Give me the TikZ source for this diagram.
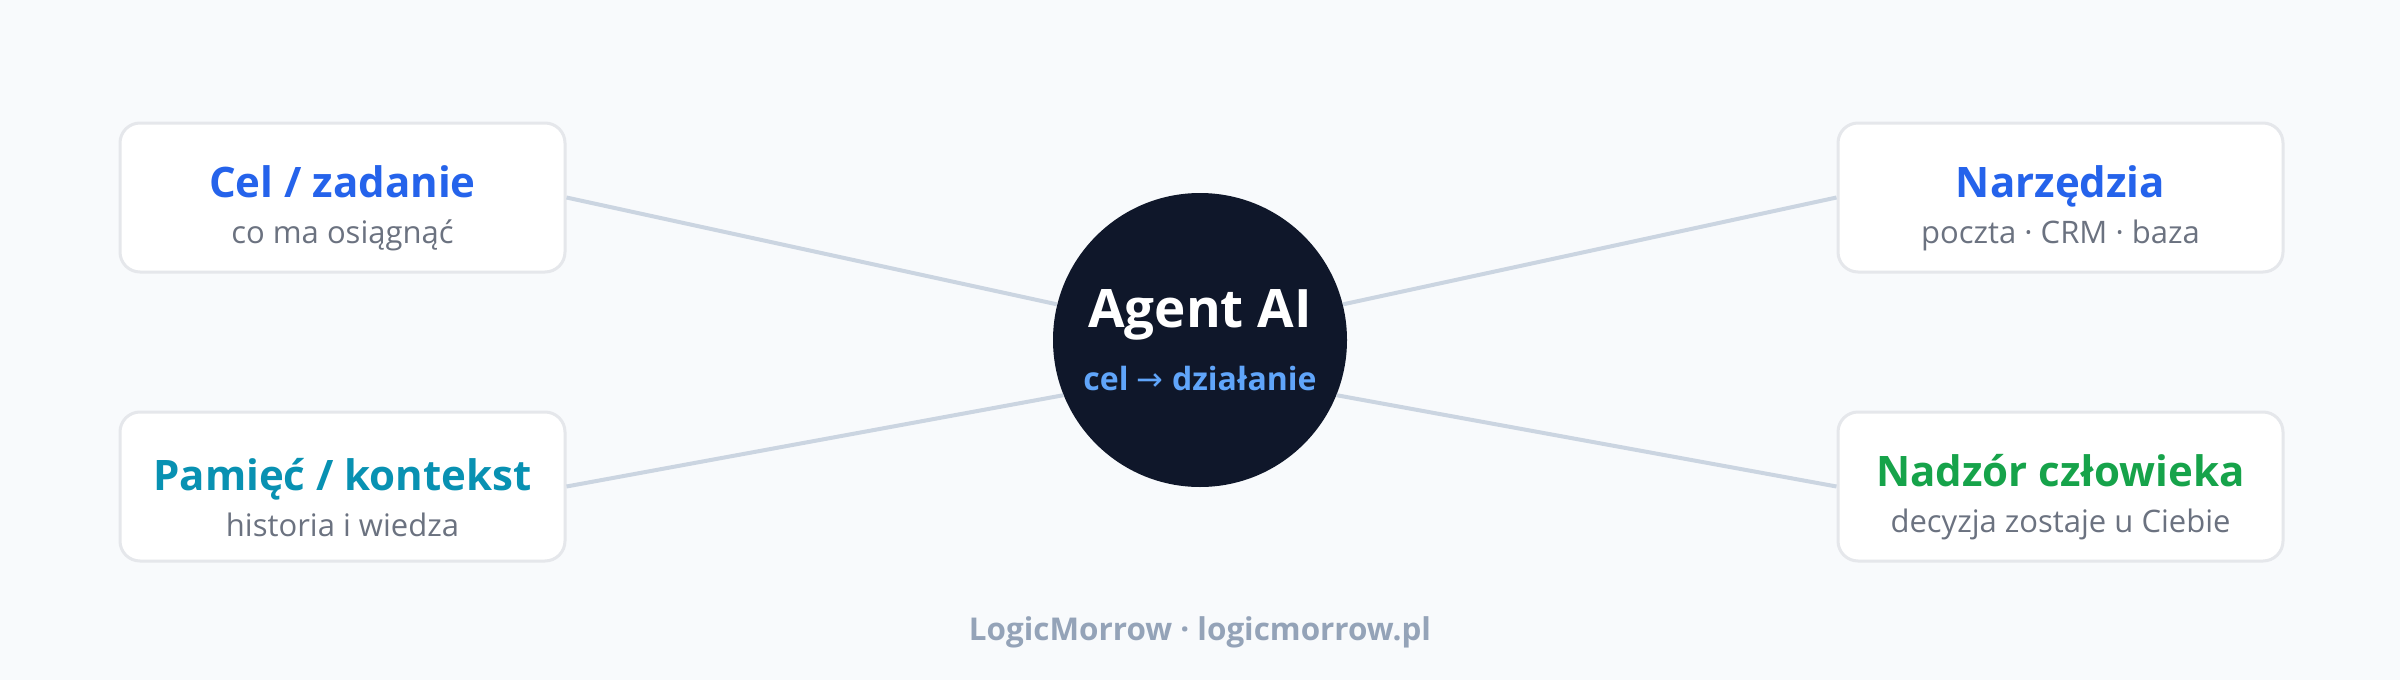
\documentclass[tikz,border=0pt]{standalone}
\usepackage{fontspec}
\setmainfont{Open Sans}
\newfontfamily\arrowfont{DejaVu Sans}
\usepackage{tikz}
\usetikzlibrary{
        positioning,
        shapes
    }
\definecolor{pagebg}{HTML}{F8FAFC}
\definecolor{cardline}{HTML}{E5E7EB}
\definecolor{spokeline}{HTML}{CBD5E1}
\definecolor{hubfill}{HTML}{0F172A}
\definecolor{hubsub}{HTML}{60A5FA}
\definecolor{taskblue}{HTML}{2563EB}
\definecolor{memteal}{HTML}{0891B2}
\definecolor{humangreen}{HTML}{16A34A}
\definecolor{subgray}{HTML}{6B7280}
\definecolor{footgray}{HTML}{94A3B8}
\tikzset{x=0.5pt,y=-0.5pt}
\tikzset{card/.style={draw=cardline,line width=1.5pt,fill=white,rounded corners=10pt,
        minimum width=222.5pt,minimum height=74.5pt,inner sep=0pt,align=center,
        font=\fontsize{15.5}{23}\selectfont}}
\tikzset{hub/.style={circle,fill=hubfill,minimum size=147pt,inner sep=0pt,align=center,
        font=\fontsize{16}{31.5}\selectfont}}
\tikzset{spoke/.style={draw=spokeline,line width=2pt}}
\tikzset{footer/.style={text=footgray,font=\fontsize{15.7}{18}\selectfont\bfseries}}
\newcommand{\cardtitle}[2]{\rule{0pt}{26.7pt}{\fontsize{21}{23}\selectfont\bfseries\color{#1}#2}}
\newcommand{\cardsub}[1]{{\color{subgray}#1}}

\begin{document}
\begin{tikzpicture}[node distance=68.5pt and 635pt]
                \fill[pagebg] (0,0) rectangle (2400,680);
                \useasboundingbox (0,0) rectangle (2400,680);
                \node[hub] (agent) at (1200,340)
                    {{\fontsize{26.5}{31.5}\selectfont\bfseries\color{white}Agent AI}\\
                     {\bfseries\color{hubsub}cel {\arrowfont\mdseries →} działanie}};
                \node[card] (cel) at (342.5,197.5)
                    {\cardtitle{taskblue}{Cel / zadanie}\\ \cardsub{co ma osiągnąć}};
                \node[card] (pamiec) [below=of cel]
                    {\cardtitle{memteal}{Pamięć / kontekst}\\ \cardsub{historia i wiedza}};
                \node[card] (narz) [right=of cel]
                    {\cardtitle{taskblue}{Narzędzia}\\ \cardsub{poczta · CRM · baza}};
                \node[card] (nadzor) [right=of pamiec]
                    {\cardtitle{humangreen}{Nadzór człowieka}\\ \cardsub{decyzja zostaje u Ciebie}};
                \node[footer] (sig) at (1200,632) {LogicMorrow · logicmorrow.pl};
                \path[spoke]
                    (cel.east)    edge (agent.166)
                    (pamiec.east) edge (agent.202)
                    (narz.west)   edge (agent.14)
                    (nadzor.west) edge (agent.338)
                ;
            \end{tikzpicture}
\end{document}
